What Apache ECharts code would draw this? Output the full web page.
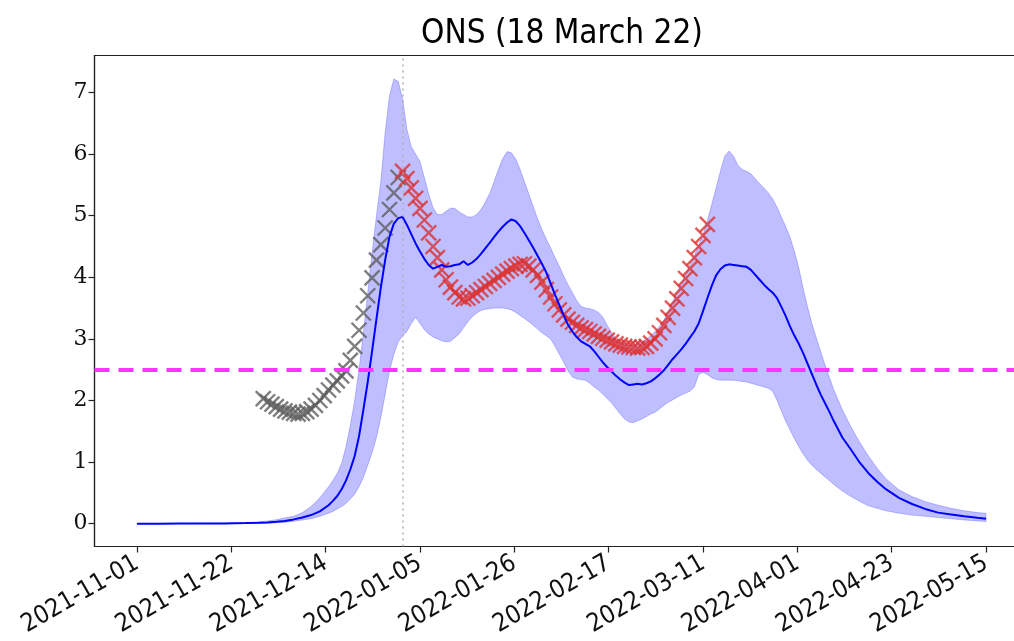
<!DOCTYPE html>
<html>
<head>
<meta charset="utf-8">
<script src="https://cdn.jsdelivr.net/npm/echarts@6/dist/echarts.min.js"></script>
<style>
html,body{margin:0;padding:0;background:#fff;}
#c{width:1014px;height:641px;}
</style>
</head>
<body>
<div id="c"></div>
<script>
// ---- data (x = days since 2021-11-01) ----
const titleText = 'ONS (18 March 22)';
const xTickLabels = ['2021-11-01','2021-11-22','2021-12-14','2022-01-05','2022-01-26','2022-02-17','2022-03-11','2022-04-01','2022-04-23','2022-05-15'];
const xSpanDays = 195;
const yTickValues = [0,1,2,3,4,5,6,7];
const yTickLabels = ['0','1','2','3','4','5','6','7'];

const days = [
  0,5,10,15,20,25,28,30,32,34,
  36,38,40,42,44,45,46,47,48,49,
  50,51,52,53,54,55,56,57,58,59,
  60,61,62,63,64,65,66,67,68,69,
  70,71,72,73,74,75,76,77,78,79,
  80,81,82,83,84,85,86,87,88,89,
  90,91,92,93,94,95,96,97,98,99,
  100,101,102,103,104,105,106,107,108,109,
  110,111,112,113,114,115,116,117,118,119,
  120,121,122,123,124,125,126,127,128,129,
  130,131,132,133,134,135,136,137,138,139,
  140,141,142,143,144,145,146,147,148,149,
  150,151,152,153,154,155,156,157,158,159,
  160,162,164,166,168,170,172,175,178,181,
  184,187,190,193,195];
const median = [
  0.001,0.001,0.002,0.003,0.005,0.01,0.015,0.02,0.03,0.045,
  0.07,0.1,0.14,0.2,0.3,0.37,0.45,0.56,0.7,0.88,
  1.1,1.42,1.85,2.3,2.8,3.32,3.83,4.28,4.66,4.87,
  4.96,4.98,4.85,4.7,4.55,4.42,4.3,4.2,4.14,4.17,
  4.2,4.17,4.18,4.2,4.21,4.26,4.2,4.24,4.3,4.38,
  4.47,4.56,4.65,4.74,4.82,4.89,4.94,4.91,4.83,4.72,
  4.6,4.48,4.35,4.22,4.08,3.9,3.72,3.55,3.38,3.23,
  3.12,3.03,2.96,2.92,2.88,2.8,2.71,2.62,2.54,2.47,
  2.4,2.34,2.29,2.25,2.26,2.27,2.26,2.28,2.31,2.36,
  2.42,2.49,2.58,2.67,2.75,2.83,2.92,3.02,3.12,3.25,
  3.45,3.66,3.86,4.03,4.13,4.19,4.21,4.2,4.19,4.18,
  4.17,4.12,4.04,3.96,3.88,3.81,3.75,3.66,3.52,3.37,
  3.2,3.05,2.92,2.77,2.6,2.43,2.26,2.1,1.96,1.82,
  1.67,1.4,1.2,0.99,0.82,0.68,0.56,0.42,0.32,0.24,
  0.18,0.15,0.12,0.095,0.08];
const lower = [
  0,0,0.001,0.002,0.003,0.005,0.008,0.01,0.015,0.022,
  0.04,0.06,0.08,0.12,0.17,0.2,0.24,0.28,0.33,0.4,
  0.48,0.6,0.75,0.95,1.15,1.4,1.72,2.1,2.48,2.75,
  2.95,3.05,3.12,3.25,3.35,3.25,3.15,3.08,3.03,3.0,
  2.97,2.95,2.96,3.02,3.08,3.18,3.28,3.36,3.42,3.46,
  3.48,3.49,3.5,3.5,3.5,3.49,3.47,3.43,3.38,3.33,
  3.28,3.22,3.16,3.1,3.05,3.0,2.88,2.75,2.62,2.48,
  2.38,2.35,2.34,2.33,2.28,2.22,2.17,2.1,2.03,1.96,
  1.87,1.78,1.7,1.65,1.64,1.67,1.7,1.74,1.78,1.81,
  1.86,1.92,1.97,2.01,2.05,2.09,2.12,2.15,2.22,2.42,
  2.46,2.42,2.37,2.34,2.33,2.33,2.33,2.33,2.32,2.31,
  2.3,2.28,2.26,2.24,2.22,2.2,2.15,2.0,1.83,1.66,
  1.52,1.38,1.25,1.13,1.03,0.95,0.88,0.82,0.76,0.7,
  0.64,0.53,0.44,0.36,0.29,0.25,0.21,0.17,0.14,0.12,
  0.1,0.08,0.06,0.045,0.035];
const upper = [
  0.002,0.002,0.003,0.005,0.009,0.02,0.03,0.045,0.065,0.095,
  0.12,0.18,0.28,0.42,0.6,0.7,0.82,0.98,1.25,1.6,
  2.0,2.5,3.1,3.75,4.4,5.0,5.55,6.35,6.95,7.22,
  7.18,6.9,6.4,6.12,6.0,5.88,5.62,5.35,5.13,5.02,
  5.02,5.07,5.12,5.12,5.06,5.02,4.98,4.98,5.02,5.1,
  5.22,5.36,5.55,5.75,5.93,6.04,6.02,5.92,5.75,5.55,
  5.35,5.15,4.95,4.78,4.62,4.48,4.32,4.18,4.02,3.88,
  3.75,3.62,3.53,3.5,3.49,3.47,3.43,3.35,3.22,3.1,
  3.0,2.95,2.92,2.9,2.9,2.92,2.95,3.0,3.05,3.12,
  3.2,3.3,3.45,3.6,3.75,3.9,4.05,4.2,4.35,4.52,
  4.7,4.92,5.18,5.45,5.72,5.97,6.05,5.97,5.82,5.75,
  5.72,5.68,5.6,5.52,5.45,5.37,5.27,5.14,4.98,4.82,
  4.65,4.42,4.15,3.82,3.52,3.25,3.02,2.8,2.58,2.38,
  2.18,1.85,1.57,1.32,1.1,0.9,0.73,0.55,0.44,0.36,
  0.3,0.25,0.21,0.18,0.17];

const grayDays = [29,30,31,32,33,34,35,36,37,38,39,40,41,42,43,44,45,46,47,48,49,50,51,52,53,54,55,56,57,58,59,60];
const grayVals = [2.03,1.98,1.94,1.9,1.86,1.83,1.81,1.79,1.78,1.79,1.82,1.86,1.92,2.0,2.08,2.17,2.25,2.32,2.4,2.48,2.65,2.88,3.14,3.42,3.7,3.99,4.28,4.53,4.8,5.1,5.37,5.62];

const redDays = [61,62,63,64,65,66,67,68,69,70,71,72,73,74,75,76,77,78,79,80,81,82,83,84,85,86,87,88,89,90,91,92,93,94,95,96,97,98,99,100,101,102,103,104,105,106,107,108,109,110,111,112,113,114,115,116,117,118,119,120,121,122,123,124,125,126,127,128,129,130,131];
const redVals = [5.72,5.6,5.45,5.28,5.12,4.93,4.72,4.5,4.32,4.12,3.96,3.84,3.75,3.68,3.65,3.66,3.7,3.75,3.8,3.85,3.9,3.95,4.0,4.05,4.1,4.14,4.18,4.21,4.22,4.18,4.12,4.03,3.92,3.8,3.68,3.57,3.47,3.39,3.32,3.27,3.22,3.18,3.15,3.12,3.08,3.04,3.01,2.98,2.95,2.92,2.9,2.88,2.87,2.86,2.85,2.86,2.88,2.93,3.0,3.1,3.22,3.35,3.5,3.65,3.82,3.98,4.14,4.32,4.5,4.68,4.86];

const vlineDay = 61;
const thresholdY = 2.5;

// ---- chart ----
const FONT = "'Liberation Sans Narrow','DejaVu Sans Condensed','Liberation Sans',sans-serif";
const tickStep = xSpanDays / (xTickLabels.length - 1);
const xTickValues = xTickLabels.map((_, i) => i * tickStep);
const zip = (a, b) => a.map((v, i) => [v, b[i]]);
const X_SYM = 'path://M0 0L10 10M10 0L0 10';
const bandColor = 'rgba(0,0,255,0.25)';

const chart = echarts.init(document.getElementById('c'), null, {renderer: 'canvas'});
chart.setOption({
  animation: false,
  backgroundColor: '#ffffff',
  title: {
    text: titleText, left: 557, top: 13, textAlign: 'center',
    textStyle: {fontFamily: FONT, fontSize: 33, fontWeight: 'normal', color: '#000'}
  },
  grid: {
    left: 94.5, top: 55.5, width: 934, height: 491,
    outerBoundsMode: 'none', containLabel: false,
    show: true, borderColor: '#222', borderWidth: 1.2, backgroundColor: 'transparent'
  },
  xAxis: {
    type: 'value', min: -9.75, max: 204.75,
    splitLine: {show: false},
    axisLine: {show: true, onZero: false, lineStyle: {color: '#222', width: 1.2}},
    axisTick: {show: true, customValues: xTickValues, length: 6, inside: false, lineStyle: {color: '#222', width: 1.2}},
    axisLabel: {
      show: true, customValues: xTickValues, rotate: 30, margin: 15,
      fontFamily: FONT, fontSize: 25, color: '#111',
      formatter: v => xTickLabels[Math.round(v / tickStep)]
    }
  },
  yAxis: {
    type: 'value', min: -0.37, max: 7.6,
    splitLine: {show: false},
    axisLine: {show: true, onZero: false, lineStyle: {color: '#222', width: 1.2}},
    axisTick: {show: true, customValues: yTickValues, length: 6, lineStyle: {color: '#222', width: 1.2}},
    axisLabel: {
      show: true, customValues: yTickValues, margin: 7,
      fontFamily: "'DejaVu Serif','Liberation Serif',serif", fontSize: 22, color: '#111',
      formatter: v => yTickLabels[yTickValues.indexOf(Math.round(v))]
    }
  },
  series: [
    {
      name: 'band', type: 'custom', z: 1, clip: true,
      data: days.map((d, i) => [d, lower[i], upper[i]]),
      encode: {x: 0, y: [1, 2]},
      renderItem: (params, api) => {
        if (params.dataIndex !== 0) return null;
        const pts = [];
        for (let i = 0; i < days.length; i++) pts.push(api.coord([days[i], upper[i]]));
        for (let i = days.length - 1; i >= 0; i--) pts.push(api.coord([days[i], lower[i]]));
        return {type: 'polygon', shape: {points: pts}, style: {fill: bandColor, stroke: 'rgba(0,0,255,0.22)', lineWidth: 1}};
      }
    },
    {
      name: 'vline', type: 'line', data: [], z: 2,
      markLine: {
        silent: true, symbol: 'none', label: {show: false},
        lineStyle: {color: '#b0b0b0', type: [2, 4], width: 1.5},
        data: [{xAxis: vlineDay}]
      }
    },
    {
      name: 'gray', type: 'scatter', data: zip(grayDays, grayVals), z: 3,
      symbol: X_SYM, symbolSize: 15,
      itemStyle: {color: 'rgba(0,0,0,0)', borderColor: '#5f5f5f', borderWidth: 2.4}
    },
    {
      name: 'red', type: 'scatter', data: zip(redDays, redVals), z: 3,
      symbol: X_SYM, symbolSize: 15,
      itemStyle: {color: 'rgba(0,0,0,0)', borderColor: '#dc3232', borderWidth: 2.4}
    },
    {
      name: 'median', type: 'line', data: zip(days, median), z: 4,
      showSymbol: false, smooth: false,
      lineStyle: {color: '#0000ff', width: 2}
    },
    {
      name: 'threshold', type: 'line', data: [], z: 5,
      markLine: {
        silent: true, symbol: 'none', label: {show: false},
        lineStyle: {color: '#ff33ff', type: [15, 9], width: 4},
        data: [{yAxis: thresholdY}]
      }
    }
  ]
});
</script>
</body>
</html>
